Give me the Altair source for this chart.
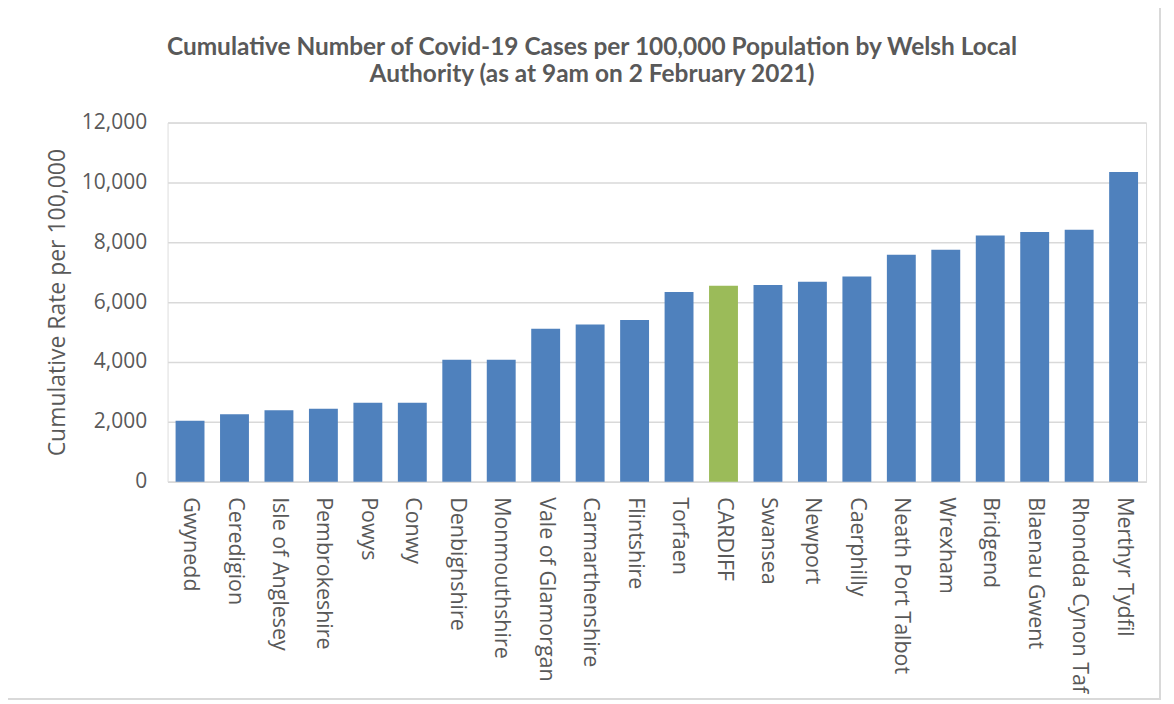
import altair as alt
import pandas as pd

authorities = ["Gwynedd", "Ceredigion", "Isle of Anglesey", "Pembrokeshire", "Powys", "Conwy",
               "Denbighshire", "Monmouthshire", "Vale of Glamorgan", "Carmarthenshire", "Flintshire",
               "Torfaen", "CARDIFF", "Swansea", "Newport", "Caerphilly", "Neath Port Talbot",
               "Wrexham", "Bridgend", "Blaenau Gwent", "Rhondda Cynon Taf", "Merthyr Tydfil"]
rates = [2040, 2250, 2383, 2440, 2640, 2640, 4073, 4073, 5107, 5250, 5407,
         6340, 6550, 6573, 6683, 6860, 7583, 7750, 8227, 8340, 8417, 10350]
highlight = ["CARDIFF"]

df = pd.DataFrame({"authority": authorities, "rate": rates})
df["group"] = ["Cardiff" if a in highlight else "Other" for a in authorities]

FONT = "Open Sans"
TFONT = "Lato"
W, H = 981, 360

bars = alt.Chart(df).mark_bar().encode(
    x=alt.X("authority:N", sort=authorities, title=None,
            scale=alt.Scale(paddingInner=0.35, paddingOuter=0.18),
            axis=alt.Axis(labelAngle=90, labelAlign="left", labelBaseline="middle",
                          labelFontSize=21.5, labelColor="#595959", labelFont=FONT,
                          labelPadding=15, labelLimit=400, ticks=False, domain=True,
                          domainColor="#d9d9d9", domainWidth=1.5, grid=False)),
    y=alt.Y("rate:Q", title="Cumulative Rate per 100,000",
            scale=alt.Scale(domain=[0, 12000], nice=False),
            axis=alt.Axis(values=list(range(0, 12001, 2000)), format=",d",
                          labelFontSize=21, labelColor="#595959", labelFont=FONT,
                          labelPadding=21, ticks=False, domain=False,
                          gridColor="#d9d9d9", gridWidth=1.5,
                          titleFontSize=23, titleFont=FONT, titleColor="#595959",
                          titleFontWeight="normal", titlePadding=12)),
    color=alt.Color("group:N", scale=alt.Scale(domain=["Other", "Cardiff"],
                                               range=["#4f81bd", "#9bbb59"]), legend=None),
)

border = alt.Chart(df).mark_rect(fill="transparent", stroke="#d9d9d9", strokeWidth=1.5).encode(
    x=alt.value(-166), x2=alt.value(W + 14), y=alt.value(-120), y2=alt.value(H + 218)
)

chart = alt.layer(border, bars).properties(
    width=W, height=H,
    title=alt.TitleParams(
        text=["Cumulative Number of Covid-19 Cases per 100,000 Population by Welsh Local",
              "Authority (as at 9am on 2 February 2021)"],
        font=TFONT, fontSize=24.5, fontWeight="bold", color="#595959",
        anchor="middle", dx=-65, offset=-86, lineHeight=28),
    autosize=alt.AutoSizeParams(type="none"),
    padding={"left": 160, "top": 114, "right": 20, "bottom": 224},
).configure_view(stroke=None).configure(background="white")

chart.save("out.html", embed_options={"renderer": "svg", "actions": False})
